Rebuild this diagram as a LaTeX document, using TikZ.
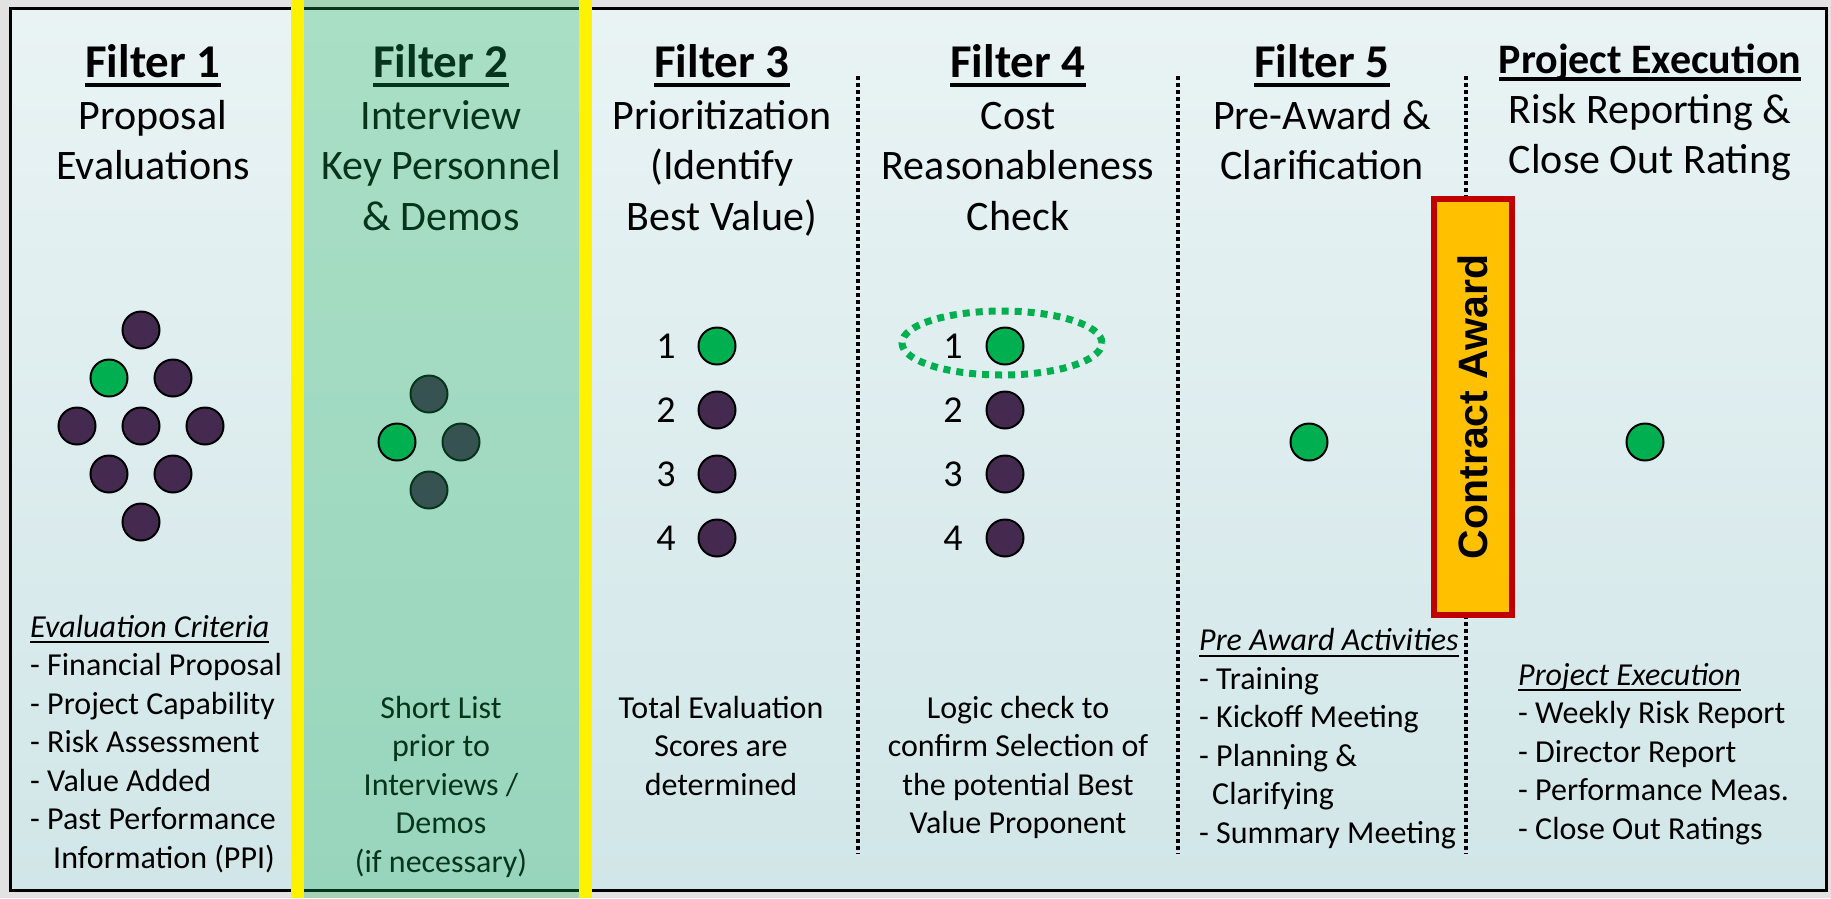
\documentclass[tikz,border=0pt]{standalone}
\usepackage{fontspec}
\setmainfont{Carlito}
\newfontfamily\awardfont{Liberation Sans}
\usetikzlibrary{positioning,shapes.geometric}

\definecolor{plum}{RGB}{68,42,78}
\definecolor{pickgreen}{RGB}{0,176,80}
\definecolor{bandgreen}{RGB}{23,177,90}
\definecolor{awardfill}{RGB}{255,192,0}
\definecolor{awardred}{RGB}{192,0,0}
\definecolor{paneltop}{RGB}{233,243,244}
\definecolor{panelbot}{RGB}{209,230,232}
\definecolor{margin}{RGB}{226,226,226}

\newsavebox\undlbox
\newcommand{\undl}[3]{\sbox\undlbox{#3}\rlap{\usebox\undlbox}\rule[-#1]{\wd\undlbox}{#2}}

\tikzstyle{head} = [font=\fontsize{47}{50}\selectfont\bfseries, anchor=base, inner sep=0pt]
\tikzstyle{sub} = [font=\fontsize{42}{50.5}\selectfont, align=center, anchor=base, inner sep=0pt]
\tikzstyle{note} = [font=\fontsize{32}{38.5}\selectfont, align=center, anchor=base, inner sep=0pt]
\tikzstyle{list} = [font=\fontsize{32}{38.5}\selectfont, align=left, anchor=base west, inner sep=0pt]
\tikzstyle{dot} = [circle, draw, line width=2pt, minimum size=37pt, inner sep=0pt, fill=plum]
\tikzstyle{pick} = [dot, fill=pickgreen]
\tikzstyle{rank} = [font=\fontsize{38}{40}\selectfont, inner sep=0pt]
\tikzstyle{sep} = [draw, line width=3.5pt, dash pattern=on 3.5pt off 3.5pt]
\tikzstyle{award} = [draw=awardred, fill=awardfill, line width=6pt, rotate=90, minimum width=416pt, minimum height=78pt, inner sep=0pt, font=\awardfont\fontsize{41}{44}\selectfont\bfseries]

\begin{document}
\begin{tikzpicture}[x=1pt, y=-1pt, on grid, node distance=64pt]
   \useasboundingbox (0,0) rectangle (1831,898);
   \fill[margin] (0,0) rectangle (1831,898);
   \shade[top color=paneltop, bottom color=panelbot] (10,8) rectangle (1826,890);
   \draw[line width=3pt] (10,8) rectangle (1826,890);

   \coordinate (s34top) at (858,76);   \coordinate (s34bot) at (858,854);
   \coordinate (s45top) at (1178,76);  \coordinate (s45bot) at (1178,854);
   \coordinate (s5etop) at (1466,76);  \coordinate (s5ebot) at (1466,854);
   \path[sep] (s34top) -- (s34bot);
   \path[sep] (s45top) -- (s45bot);
   \path[sep] (s5etop) -- (s5ebot);

   \node[head] (h1) at (153,77) {\undl{10pt}{4pt}{Filter 1}};
   \node[head] (h2) at (441,77) {\undl{10pt}{4pt}{Filter 2}};
   \node[head] (h3) at (722,77) {\undl{10pt}{4pt}{Filter 3}};
   \node[head] (h4) at (1018,77) {\undl{10pt}{4pt}{Filter 4}};
   \node[head] (h5) at (1322,77) {\undl{10pt}{4pt}{Filter 5}};
   \node[head, font=\fontsize{42}{50}\selectfont\bfseries] (he) at (1650,73) {\undl{8pt}{4pt}{Project Execution}};

   \node[sub] (t1) at (153,179.5) {Proposal\\Evaluations};
   \node[sub] (t2) at (441,230) {Interview\\Key Personnel\\\& Demos};
   \node[sub] (t3) at (722,230) {Prioritization\\(Identify\\Best Value)};
   \node[sub] (t4) at (1018,230) {Cost\\Reasonableness\\Check};
   \node[sub] (t5) at (1322,179.5) {Pre-Award \&\\Clarification};
   \node[sub] (te) at (1650,173.5) {Risk Reporting \&\\Close Out Rating};

   \node[dot] (p5) at (141,426) {};
   \node[dot] (p1) [above=96pt of p5] {};
   \node[pick] (p2) [above left=48pt and 32pt of p5] {};
   \node[dot] (p3) [above right=48pt and 32pt of p5] {};
   \node[dot] (p4) [left=of p5] {};
   \node[dot] (p6) [right=of p5] {};
   \node[dot] (p7) [below left=48pt and 32pt of p5] {};
   \node[dot] (p8) [below right=48pt and 32pt of p5] {};
   \node[dot] (p9) [below=96pt of p5] {};

   \node[dot] (q1) at (429,394) {};
   \node[dot] (q3) [below right=48pt and 32pt of q1] {};
   \node[dot] (q4) [below=96pt of q1] {};

   \node[pick] (r31) at (717,346) {};
   \node[dot] (r32) [below=of r31] {};
   \node[dot] (r33) [below=of r32] {};
   \node[dot] (r34) [below=of r33] {};
   \node[rank] (n31) [left=51pt of r31] {1};
   \node[rank] (n32) [left=51pt of r32] {2};
   \node[rank] (n33) [left=51pt of r33] {3};
   \node[rank] (n34) [left=51pt of r34] {4};

   \node[pick] (r41) at (1005,346) {};
   \node[dot] (r42) [below=of r41] {};
   \node[dot] (r43) [below=of r42] {};
   \node[dot] (r44) [below=of r43] {};
   \node[rank] (n41) [left=52pt of r41] {1};
   \node[rank] (n42) [left=52pt of r42] {2};
   \node[rank] (n43) [left=52pt of r43] {3};
   \node[rank] (n44) [left=52pt of r44] {4};
   \node[ellipse, draw=pickgreen, line width=7pt, dash pattern=on 7pt off 6pt, minimum width=200pt, minimum height=64pt] (ring) at (1002,343) {};

   \node[pick] (w5) at (1309,442) {};
   \node[pick] (we) at (1645,442) {};

   \node[list] (b1) at (30,868) {\undl{6pt}{2pt}{\itshape Evaluation Criteria}\\- Financial Proposal\\- Project Capability\\- Risk Assessment\\- Value Added\\- Past Performance\\\hspace*{23pt}Information (PPI)};
   \node[note] (b2) at (441,872) {Short List\\prior to\\Interviews /\\Demos\\(if necessary)};
   \node[note] (b3) at (721,795) {Total Evaluation\\Scores are\\determined};
   \node[note] (b4) at (1018,833.5) {Logic check to\\confirm Selection of\\the potential Best\\Value Proponent};
   \node[list] (b5) at (1199,843) {\undl{6pt}{2pt}{\itshape Pre Award Activities}\\- Training\\- Kickoff Meeting\\- Planning \&\\\hspace*{13pt}Clarifying\\- Summary Meeting};
   \node[list] (be) at (1518,839) {\undl{6pt}{2pt}{\itshape Project Execution}\\- Weekly Risk Report\\- Director Report\\- Performance Meas.\\- Close Out Ratings};

   \fill[bandgreen, fill opacity=0.3] (304,0) rectangle (579,898);
   \node[pick] (q2) [below left=48pt and 32pt of q1] {};
   \fill[yellow] (291,0) rectangle (304,898);
   \fill[yellow] (579,0) rectangle (592,898);

   \node[award] (award) at (1473,407) {Contract Award};
\end{tikzpicture}
\end{document}
